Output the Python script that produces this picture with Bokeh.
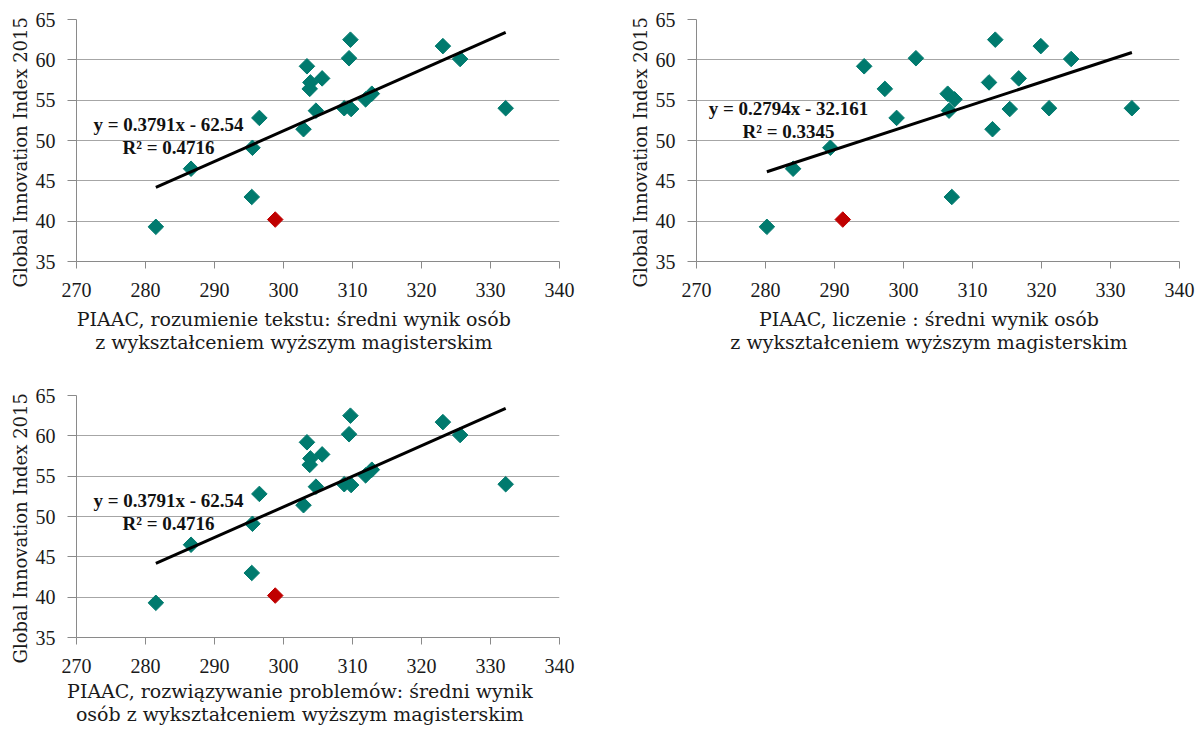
import math
from bokeh.plotting import figure
from bokeh.models import Label, FixedTicker, Range1d, Title
from bokeh.layouts import column, row
from bokeh.embed import file_html
from bokeh.resources import INLINE

# ---- data ----
gii_2015 = [39.3, 46.5, 43.0, 49.1, 52.8, 40.2, 51.4, 59.2, 57.2, 56.4, 57.7,
            53.7, 54.0, 53.9, 54.0, 60.2, 62.5, 55.1, 55.8, 61.7, 60.1]
highlight = [False, False, False, False, False, True, False, False, False, False, False,
             False, False, False, False, False, False, False, False, False, False]
x_literacy = [281.5, 286.6, 295.4, 295.5, 296.5, 298.8, 302.9, 303.4, 303.9, 303.8, 305.6,
              304.7, 308.8, 309.8, 332.2, 309.5, 309.7, 311.9, 312.8, 323.1, 325.6]
x_numeracy = [280.2, 284.0, 307.0, 289.4, 299.0, 291.2, 312.9, 294.3, 312.4, 297.3, 316.7,
              306.6, 321.1, 315.4, 333.1, 301.8, 313.3, 307.4, 306.4, 319.9, 324.3]
x_problem = [281.5, 286.6, 295.4, 295.5, 296.5, 298.8, 302.9, 303.4, 303.9, 303.8, 305.6,
             304.7, 308.8, 309.8, 332.2, 309.5, 309.7, 311.9, 312.8, 323.1, 325.6]

trend_literacy = (0.3791, -62.54)
trend_numeracy = (0.2794, -32.161)
trend_problem = (0.3791, -62.54)

eq_literacy = ["y = 0.3791x - 62.54", "R² = 0.4716"]
eq_numeracy = ["y = 0.2794x - 32.161", "R² = 0.3345"]
eq_problem = ["y = 0.3791x - 62.54", "R² = 0.4716"]

x_ticks = [270, 280, 290, 300, 310, 320, 330, 340]
y_ticks = [35, 40, 45, 50, 55, 60, 65]

y_title = "Global Innovation Index 2015"
x_title_literacy = ["PIAAC, rozumienie tekstu: średni wynik osób",
                    "z wykształceniem wyższym magisterskim"]
x_title_numeracy = ["PIAAC, liczenie : średni wynik osób",
                    "z wykształceniem wyższym magisterskim"]
x_title_problem = ["PIAAC, rozwiązywanie problemów: średni wynik",
                   "osób z wykształceniem wyższym magisterskim"]

TEAL = "#007A6E"
RED = "#C00000"
GRID = "#A6A6A6"
AXIS = "#8A8A8A"
TEXT = "#1a1a1a"
TICK_FONT = "Liberation Serif"
LABEL_FONT = "DejaVu Serif"
NBSP = "\u00a0"

FW, FH = 483, 242
X0, X1 = x_ticks[0], x_ticks[-1]
Y0, Y1 = y_ticks[0], y_ticks[-1]


def px_to_x(dx):
    return X0 + dx * (X1 - X0) / FW


def px_to_y(dy_from_top):
    return Y1 - dy_from_top * (Y1 - Y0) / FH


def make_plot(xs, trend, eq, xtitle, eq_pos, xt_pad, xt_standoff,
              left, right, top, bottom):
    p = figure(frame_width=FW, frame_height=FH,
               x_range=Range1d(X0, X1), y_range=Range1d(Y0, Y1),
               output_backend="svg", toolbar_location=None,
               min_border_left=left, min_border_right=right,
               min_border_top=top, min_border_bottom=bottom)
    p.outline_line_color = None
    p.background_fill_color = "white"
    p.border_fill_color = "white"
    p.xgrid.grid_line_color = None
    p.ygrid.grid_line_color = GRID
    p.ygrid.grid_line_width = 1

    p.xaxis.ticker = FixedTicker(ticks=x_ticks)
    p.yaxis.ticker = FixedTicker(ticks=y_ticks)
    for ax in (p.xaxis[0], p.yaxis[0]):
        ax.axis_line_color = AXIS
        ax.major_tick_line_color = AXIS
        ax.minor_tick_line_color = None
        ax.major_tick_in = 0
        ax.major_label_text_font = TICK_FONT
        ax.major_label_text_font_size = "20px"
        ax.major_label_text_color = TEXT
        ax.axis_label_text_font = LABEL_FONT
        ax.axis_label_text_font_style = "normal"
        ax.axis_label_text_color = TEXT
    p.xaxis.major_tick_out = 7
    p.yaxis.major_tick_out = 9
    p.xaxis.major_label_standoff = 14
    p.yaxis.major_label_standoff = 12

    # y title: a Title on the left side, starting a little below the frame bottom
    p.add_layout(Title(text=y_title, align="left", offset=-26,
                       text_font=LABEL_FONT, text_font_size="18px",
                       text_font_style="normal", text_color=TEXT,
                       standoff=4), "left")

    # trailing no-break spaces shift the centred x title to where the reference has it
    p.xaxis.axis_label = "\n".join(t + NBSP * xt_pad for t in xtitle)
    p.xaxis.axis_label_text_font_size = "19px"
    p.xaxis.axis_label_standoff = xt_standoff
    p.xaxis.axis_label_text_line_height = 1.08

    xs_n = [x for x, h in zip(xs, highlight) if not h]
    ys_n = [y for y, h in zip(gii_2015, highlight) if not h]
    xs_h = [x for x, h in zip(xs, highlight) if h]
    ys_h = [y for y, h in zip(gii_2015, highlight) if h]
    p.scatter(xs_n, ys_n, marker="square", size=11, angle=math.pi / 4,
              fill_color=TEAL, line_color=TEAL)
    p.scatter(xs_h, ys_h, marker="square", size=11, angle=math.pi / 4,
              fill_color=RED, line_color=RED)

    slope, icpt = trend
    lx = [min(xs), max(xs)]
    ly = [slope * v + icpt for v in lx]
    p.line(lx, ly, line_color="black", line_width=3)

    (ex, ey1, ey2) = eq_pos
    for txt, yy in ((eq[0], ey1), (eq[1], ey2)):
        p.add_layout(Label(x=px_to_x(ex), y=px_to_y(yy), text=txt,
                           text_font="Liberation Serif",
                           text_font_style="bold", text_font_size="19px",
                           text_align="center", text_baseline="middle",
                           text_color="#111111"))
    return p


p1 = make_plot(x_literacy, trend_literacy, eq_literacy, x_title_literacy,
               (92, 105, 128), 8, 8, 76, 60, 19, 115)
p2 = make_plot(x_numeracy, trend_numeracy, eq_numeracy, x_title_numeracy,
               (92, 89, 112), 3, 8, 77, 20, 19, 115)
p3 = make_plot(x_problem, trend_problem, eq_problem, x_title_problem,
               (92, 105, 128), 6, 4, 76, 60, 19, 94)

layout = column(row(p1, p2), p3)
layout.margin = 0

open("out.html", "w").write(file_html(layout, INLINE))
